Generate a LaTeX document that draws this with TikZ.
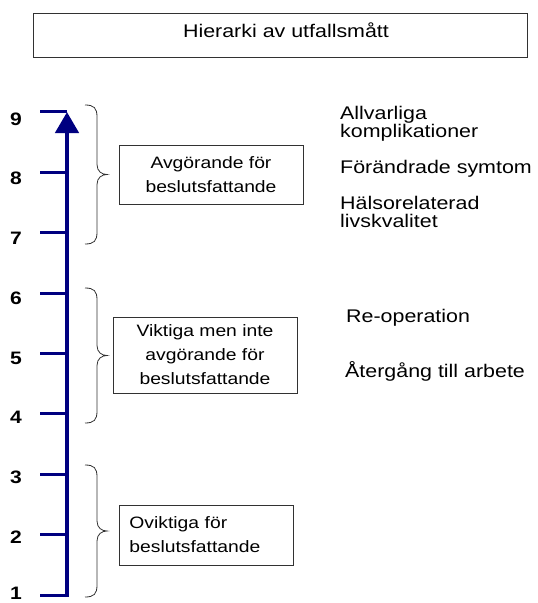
\documentclass[tikz,border=0pt]{standalone}
\usepackage{fontspec}
\setmainfont{Liberation Sans}[FakeStretch=1.17]
\usetikzlibrary{arrows.meta}
\definecolor{axisblue}{RGB}{0,0,128}
\definecolor{linegray}{RGB}{50,50,50}
\begin{document}
\begin{tikzpicture}[x=1pt,y=-1pt,
  axisline/.style={draw=axisblue,line width=4.5pt},
  tickline/.style={draw=axisblue,line width=3pt},
  bracestyle/.style={draw=linegray,line width=0.8pt},
  numlabel/.style={font=\fontsize{18}{18}\bfseries\selectfont,inner sep=0pt},
  infobox/.style={draw=linegray,line width=0.9pt,font=\fontsize{16.5}{24}\selectfont,align=center,inner sep=0pt},
  sidelabel/.style={font=\fontsize{18.3}{18}\selectfont,align=left,inner sep=0pt},
  titlebox/.style={draw=linegray,line width=1pt,minimum width=494pt,minimum height=44pt,inner sep=0pt}]
\useasboundingbox (0,0) rectangle (538,603);
% title
\node[titlebox] (tb) at (280,35) {};
\node[sidelabel,anchor=base] (tt) at (286,37) {Hierarki av utfallsmått};
% axis
\coordinate (abot) at (67,597);
\coordinate (atop) at (67,112);
\foreach \k in {1,...,9}{
  \coordinate (tl\k) at (40,{595-(\k-1)*60.4});
  \coordinate (tr\k) at (67,{595-(\k-1)*60.4});
}
\foreach \k in {2,...,9}{
  \node[numlabel] (n\k) at (16,{597-(\k-1)*59.75}) {\k};
}
\node[numlabel] (n1) at (16,593) {1};
\draw[tickline] (tl1) -- ([xshift=2.2pt]tr1);
\foreach \k in {2,...,9}{ \draw[tickline] (tl\k) -- (tr\k); }
\draw[axisline,-{Triangle[width=23pt,length=21pt]}] (abot) -- (atop);
% braces
\foreach \t/\b in {105/244, 288/423, 465/597}{
  \pgfmathsetmacro\m{(\t+\b)/2}
  \draw[bracestyle] (85,\t) .. controls (94,\t) and (97,\t+3) .. (97,\t+12)
    -- (97,\m-10) .. controls (97,\m-3) and (102,\m) .. (107,\m)
    .. controls (102,\m) and (97,\m+3) .. (97,\m+10)
    -- (97,\b-12) .. controls (97,\b-3) and (94,\b) .. (85,\b);
}
% boxes
\node[infobox,minimum width=184pt,minimum height=59pt] (b1) at (211,174.5) {Avgörande för\\beslutsfattande};
\node[infobox,minimum width=184pt,minimum height=76pt] (b2) at (205,355) {Viktiga men inte\\avgörande för\\beslutsfattande};
\node[infobox,align=left,text width=154pt,inner xsep=10pt,minimum height=60pt,anchor=west] (b3) at (119,535) {Oviktiga för\\beslutsfattande};
% side labels
\node[sidelabel,anchor=north west] (l1) at (340,106) {Allvarliga\\komplikationer};
\node[sidelabel,anchor=base west] (l2) at (340,173) {Förändrade symtom};
\node[sidelabel,anchor=north west] (l3) at (340,196) {Hälsorelaterad\\livskvalitet};
\node[sidelabel,anchor=base west] (l4) at (346,322) {Re-operation};
\node[sidelabel,anchor=base west] (l5) at (345,377) {Återgång till arbete};
\end{tikzpicture}
\end{document}
